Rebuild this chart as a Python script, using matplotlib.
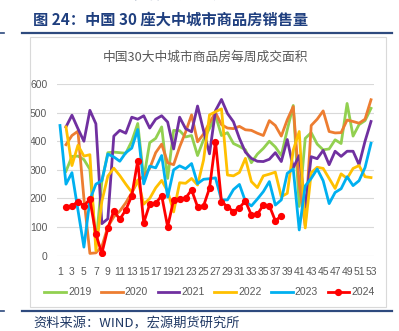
import matplotlib
matplotlib.use("Agg")
import matplotlib.pyplot as plt
import numpy as np
from matplotlib.patches import Rectangle
from matplotlib.lines import Line2D

# weekly transaction area, 30 big/medium cities (10k m2), week 1..53
weeks = list(range(1, 54))
s2019 = [None, 295, 347, 348, 336, 302, 40, 260, 360, 362, 360, 358, 400, 462, 270, 395,
         410, 450, 270, 438, 437, 415, 420, 350, 405, 445, 490, 420, 430, 392, 382, 370,
         325, 355, 375, 400, 380, 350, 440, 525, 172, 410, 430, 390, 370, 373, 405, 392,
         532, 418, 458, 472, 515]
s2020 = [None, 388, 420, 435, 200, 8, 10, 32, 101, 136, 156, 185, 220, 260, 280, 305,
         360, 390, 325, 318, 380, 432, 492, 398, 425, 465, 500, 458, 446, 444, 452, 440,
         438, 428, 420, 472, 455, 418, 475, 521, 250, 105, 455, 477, 506, 434, 429, 430,
         474, 469, 463, 477, 545]
s2021 = [None, 450, 491, 444, 400, 508, 461, 112, 129, 418, 438, 428, 484, 477, 489, 446,
         477, 489, 467, 373, 484, 444, 433, 523, 437, 356, 507, 546, 497, 468, 410, 362,
         340, 330, 329, 337, 360, 329, 406, 307, 350, 171, 346, 339, 368, 318, 365, 347,
         365, 365, 318, 400, 469]
s2022 = [None, 450, 315, 386, 348, 353, 18, 190, 278, 306, 280, 250, 222, 265, 180, 200,
         237, 263, 225, 153, 255, 253, 270, 247, 334, 492, 503, 513, 282, 279, 291, 340,
         259, 238, 279, 285, 292, 206, 218, 369, 434, 97, 290, 309, 305, 270, 235, 286,
         270, 305, 315, 276, 273]
s2023 = [455, 250, 290, 160, 30, 195, 250, 262, 355, 345, 330, 360, 376, 441, 251, 313,
         307, 350, 205, 300, 314, 304, 322, 252, 267, 269, 272, 195, 195, 231, 249, 190,
         174, 198, 224, 259, 177, 195, 288, 303, 90, 244, 270, 303, 262, 182, 221, 234,
         276, 245, 262, 308, 393]
s2024 = [None, 171, 174, 189, 175, 197, 75, 8, 96, 157, 127, 160, 209, 332, 115, 180,
         183, 210, 101, 195, 197, 201, 230, 171, 174, 236, 399, 189, 171, 154, 168, 191,
         142, 145, 177, 175, 122, 139]
s2024 = s2024 + [None] * (53 - len(s2024))

years = ["2019", "2020", "2021", "2022", "2023", "2024"]
series = [s2019, s2020, s2021, s2022, s2023, s2024]
colors = ["#92D050", "#ED7D31", "#7030A0", "#FFC000", "#00B0F0", "#FF0000"]

cjk = ["Noto Sans CJK SC", "DejaVu Sans"]
plt.rcParams["font.family"] = ["Liberation Sans Narrow", "Liberation Sans", "DejaVu Sans"]

W, H = 399, 331
fig = plt.figure(figsize=(W / 100, H / 100), dpi=100)


def fx(px):
    return px / W


def fy(py):
    return 1 - py / H


# page decorations
fig.add_artist(Line2D([fx(22), fx(392)], [fy(32.8), fy(32.8)], color="#2E4A7E", lw=1.6))
fig.add_artist(Line2D([fx(22), fx(392)], [fy(311), fy(311)], color="#2E4A7E", lw=1.6))
fig.add_artist(Line2D([0, fx(4)], [fy(33), fy(33)], color="#2E4A7E", lw=1.2))
fig.add_artist(Line2D([0, fx(4)], [fy(311), fy(311)], color="#2E4A7E", lw=1.2))
fig.add_artist(Rectangle((fx(30), fy(307)), fx(386) - fx(30), fy(37) - fy(307),
                         fill=False, edgecolor="#D9D9D9", lw=0.8))

fig.text(fx(33), fy(20), "图 24：中国 30 座大中城市商品房销售量", family=cjk,
         fontsize=11, fontweight="bold", color="#1F3F7F", ha="left", va="center")
fig.text(fx(33), fy(-4), "资料来源：WIND，宏源期货研究所", family=cjk,
         fontsize=9.5, color="#1F3864", ha="left", va="center")
fig.text(fx(33), fy(324), "资料来源：WIND，宏源期货研究所", family=cjk,
         fontsize=9.5, color="#1F3864", ha="left", va="center", style="italic")
fig.text(fx(205), fy(57), "中国30大中城市商品房每周成交面积", family=cjk,
         fontsize=9.2, color="#595959", ha="center", va="center")

ax = fig.add_axes([fx(57), fy(255.7), fx(374) - fx(57), fy(84) - fy(255.7)])

for yr, vals, c in zip(years, series, colors):
    y = np.array([np.nan if v is None else v for v in vals], dtype=float)
    if yr == "2024":
        ax.plot(weeks, y, color=c, lw=2.0, marker="o", markersize=4.2, label=yr, zorder=5)
    else:
        ax.plot(weeks, y, color=c, lw=2.0, label=yr)

ax.set_xlim(0.5, 53.5)
ax.set_ylim(0, 600)
ax.set_yticks(range(0, 601, 100))
ax.set_xticks(range(1, 54, 2))
ax.tick_params(axis="both", length=0, labelsize=7.5, colors="#595959")
ax.tick_params(axis="x", pad=8)
ax.tick_params(axis="y", pad=7)
ax.grid(axis="y", color="#D9D9D9", lw=0.8)
ax.set_axisbelow(True)
for sp in ax.spines.values():
    sp.set_visible(False)

ax.legend(ncol=6, loc="center", bbox_to_anchor=(fx(209.5), fy(292.3)),
          bbox_transform=fig.transFigure, frameon=False, fontsize=7.5,
          handlelength=2.1, handletextpad=0.2, columnspacing=0.9, labelcolor="#595959")

fig.savefig("out.png", dpi=100)
